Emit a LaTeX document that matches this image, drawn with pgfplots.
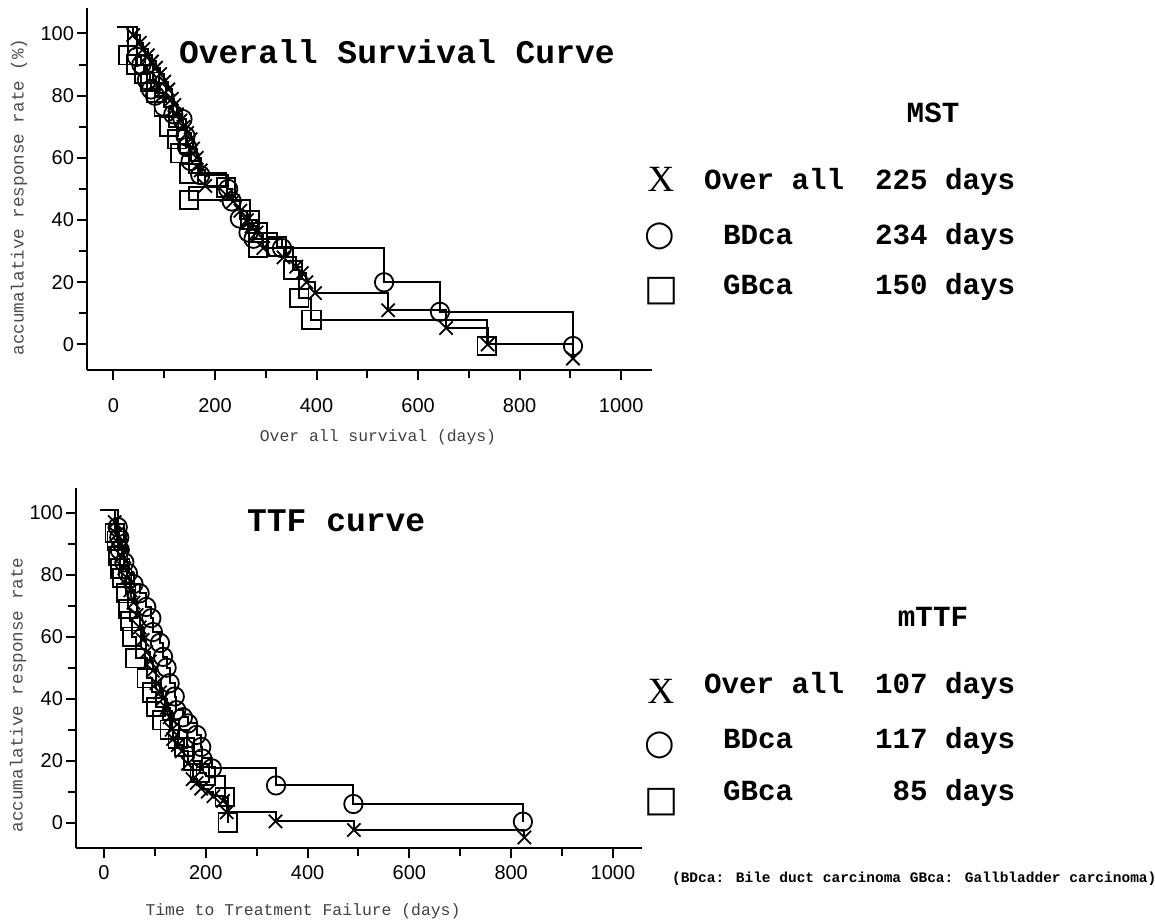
\documentclass[border=0pt]{standalone}
\usepackage{fontspec}
\setmainfont{Liberation Sans}
\newfontfamily\cour{Liberation Mono}
\newfontfamily\tms{Liberation Serif}
\newfontfamily\dejavu{DejaVu Sans}
\usepackage{pgfplots}
\pgfplotsset{compat=1.18}
\pgfplotsset{
 kmaxis/.style={
  scale only axis,
  axis lines=left,
  axis line style={-, line width=1.3pt},
  tick align=outside,
  major tick length=5pt,
  minor tick length=4pt,
  tick style={black, line width=1pt},
  xtick={0,200,400,600,800,1000},
  xticklabels={0,200,400,600,800,1000},
  minor xtick={100,300,500,700,900},
  ytick={0,20,40,60,80,100},
  yticklabels={0,20,40,60,80,100},
  minor ytick={10,30,50,70,90},
  ticklabel style={font=\fontsize{10}{12}\selectfont},
  yticklabel style={xshift=2pt},
  clip=false,
 },
 km/.style={const plot, black, line width=1pt, mark options={solid, line width=0.9pt}, mark repeat=1, mark phase=2},
 kx/.style={km, mark=x, mark size=4.7pt},
 ko/.style={km, mark=o, mark size=4.6pt},
 ks/.style={km, mark=square, mark size=4.6pt},
}
\begin{document}
\begin{tikzpicture}[x=0.5pt,y=0.5pt]
\path[use as bounding box] (0,0) rectangle (1155,921);
% ---------------- top chart ----------------
\begin{axis}[kmaxis, at={(43.5pt,275.5pt)}, anchor=south west,
  width=282.35pt, height=181pt,
  xticklabel style={yshift=-5.5pt},
  xmin=-52, xmax=1060, ymin=-8.2, ymax=108.2]
\addplot[kx] coordinates {(7,102)(39,99.5)(52,97)(59,95)(68,93)(76,91)(84,89)(92,87)(100,84.5)(108,82)(115,79)(120,77)(125,74)(132,72)(138,70)(145,68)(152,66)(157,63)(164,60)(172,56)(181,51)(223,48)(236,46)(250,43)(263,40)(272,38)(282,36)(295,31)(335,28)(360,25)(371,23)(380,20)(397,16.5)(541,11)(655,5.3)(737,0)(905,-4.5)};
\addplot[ko] coordinates {(7,102)(46,92.5)(55,90)(66,85)(74,82)(82,80)(99,76.5)(118,74)(136,72.5)(142,67)(145,63.5)(152,59)(171,54.5)(226,50)(233,46)(249,40.5)(266,36)(276,34)(332,31)(533,20)(643,10.5)(905,-0.5)};
\addplot[ks] coordinates {(7,102)(29,93)(45,90)(60,87)(72,84.5)(85,81)(99,76.5)(110,70)(125,66)(131,61.5)(149,55)(222,50.5)(149,46.5)(269,40)(285,36)(322,31.5)(354,24)(366,15)(390,8)(735,-0.5)};
\addplot[only marks, black, mark=square, mark size=4.6pt, mark options={line width=0.9pt}] coordinates {(285,31)};
\end{axis}
% ---------------- bottom chart ----------------
\begin{axis}[kmaxis, at={(38pt,36.5pt)}, anchor=south west,
  width=283pt, height=180pt,
  xmin=-55, xmax=1057, ymin=-8.2, ymax=108]
\addplot[kx] coordinates {(-8,101)(21,97)(25,93)(30,90)(35,86)(40,82)(45,79)(52,75)(58,71)(64,67)(70,63)(76,59)(83,55)(90,52)(96,49)(103,45)(110,42)(116,40)(123,37)(129,34)(133,30)(136,27)(145,25)(153,23)(165,19)(174,14)(182,12.8)(191,11)(204,10)(215,8.5)(234,7)(241,3.3)(337,0.4)(491,-2.4)(826,-4.8)};
\addplot[ko] coordinates {(-8,101)(27,95.4)(30,92)(31,88)(40,84)(47,80.5)(58,77)(70,74)(83,69.6)(93,66)(96,61.5)(110,58)(116,53.5)(123,50)(129,45)(139,40.7)(142,36.3)(155,34)(165,32)(182,28.3)(191,24.4)(193,20.7)(212,17.5)(338,12)(490,6)(823,0.3)};
\addplot[ks] coordinates {(-8,101)(21,93.5)(25,91)(28,86)(32,82)(36,79)(44,74)(47,69)(52,65)(55,60)(62,53)(84,46.6)(95,42)(102,37.3)(115,33)(129,30)(145,27)(158,24.4)(175,20)(188,16)(200,15)(237,8.3)(243,0)};
\end{axis}
% ---------------- texts ----------------
\node[anchor=base west, font=\cour\bfseries\fontsize{16.5}{18}\selectfont] at (172,857) {Overall Survival Curve};
\node[anchor=base west, font=\cour\bfseries\fontsize{16.5}{18}\selectfont] at (240,389) {TTF curve};
\node[anchor=base, font=\cour\fontsize{8.2}{10}\selectfont, text=black!75] at (378,479) {Over all survival (days)};
\node[anchor=base, font=\cour\fontsize{8.2}{10}\selectfont, text=black!75] at (303,6) {Time to Treatment Failure (days)};
\node[rotate=90, font=\cour\fontsize{8.8}{10}\selectfont, text=black!70] at (19,724) {accumalative response rate (\%)};
\node[rotate=90, font=\cour\fontsize{8.8}{10}\selectfont, text=black!70] at (18,226) {accumalative response rate};
% legends
\begin{scope}[every node/.style={font=\cour\bfseries\fontsize{14.6}{16}\selectfont}]
\node[anchor=base] at (933,798) {MST};
\node[anchor=base west] at (697,731) {Over all};
\node[anchor=base west] at (868,731) {225 days};
\node[anchor=base west] at (716,676) {BDca};
\node[anchor=base west] at (868,676) {234 days};
\node[anchor=base west] at (716,626) {GBca};
\node[anchor=base west] at (868,626) {150 days};
\node[anchor=base] at (933,294) {mTTF};
\node[anchor=base west] at (697,228) {Over all};
\node[anchor=base west] at (868,228) {107 days};
\node[anchor=base west] at (716,173) {BDca};
\node[anchor=base west] at (868,173) {117 days};
\node[anchor=base west] at (716,121) {GBca};
\node[anchor=base west] at (885.5,121) {85 days};
\end{scope}
\node[anchor=base, font=\tms\fontsize{18.5}{20}\selectfont] at (661,729) {X};
\node[anchor=base, font=\tms\fontsize{18.5}{20}\selectfont] at (661,218) {X};
\node[font=\dejavu\fontsize{17.5}{20}\selectfont] at (660,685) {○};
\node[font=\dejavu\fontsize{17.5}{20}\selectfont] at (660,176) {○};
\node[font=\dejavu\fontsize{18}{20}\selectfont] at (661,630) {□};
\node[font=\dejavu\fontsize{18}{20}\selectfont] at (661,119) {□};
\node[anchor=base west, font=\cour\bfseries\fontsize{7.25}{8}\selectfont] at (665,39) {(BDca: Bile duct carcinoma GBca: Gallbladder carcinoma)};
\end{tikzpicture}
\end{document}
